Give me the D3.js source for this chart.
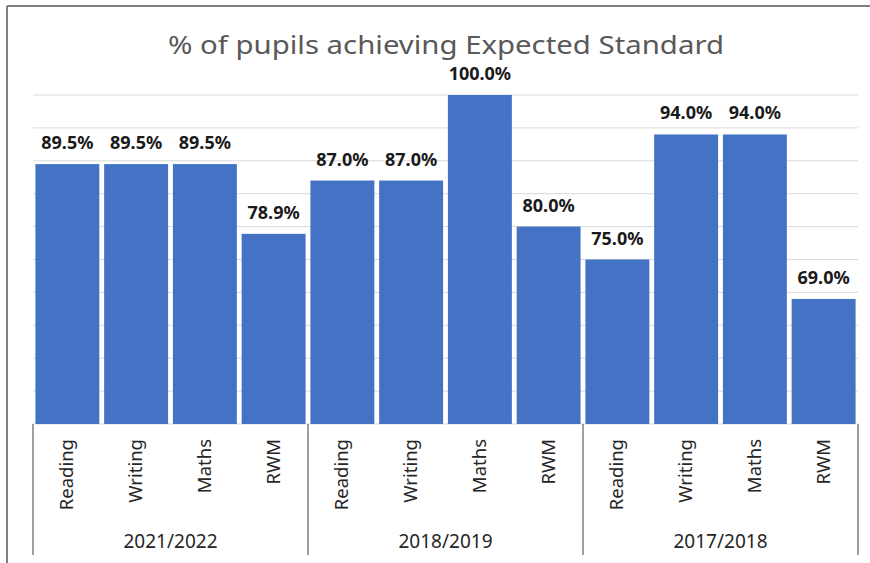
<!DOCTYPE html>
<html>
<head>
<meta charset="utf-8">
<script src="https://cdn.jsdelivr.net/npm/d3@7"></script>
<style>
  body { margin: 0; background: #fff; }
  text { font-family: "Noto Sans", "Open Sans", sans-serif; }
</style>
</head>
<body>
<svg id="chart" width="870" height="563"></svg>
<script>
// data
const years = ["2021/2022", "2018/2019", "2017/2018"];
const subjects = ["Reading", "Writing", "Maths", "RWM"];
const values2122 = [89.5, 89.5, 89.5, 78.9];
const values1819 = [87.0, 87.0, 100.0, 80.0];
const values1718 = [75.0, 94.0, 94.0, 69.0];
const yTicks = [50, 55, 60, 65, 70, 75, 80, 85, 90, 95, 100];

const allValues = [values2122, values1819, values1718];
const data = [];
years.forEach((yr, i) => {
    subjects.forEach((s, j) => {
        data.push({ year: yr, subject: s, key: yr + "|" + s, value: allValues[i][j] });
    });
});

const svg = d3.select("#chart");
const plotLeft = 33, plotRight = 858, plotTop = 95, plotBottom = 424;

const x = d3.scaleBand()
    .domain(data.map(d => d.key))
    .range([plotLeft, plotRight])
    .paddingInner(0.07)
    .paddingOuter(0.035);

const y = d3.scaleLinear()
    .domain([50, 100])
    .range([plotBottom, plotTop]);

// outer frame (only top and left visible)
svg.append("line").attr("x1", 7).attr("x2", 870).attr("y1", 6).attr("y2", 6)
    .attr("stroke", "#7f7f7f").attr("stroke-width", 2);
svg.append("line").attr("x1", 7).attr("x2", 7).attr("y1", 6).attr("y2", 563)
    .attr("stroke", "#7f7f7f").attr("stroke-width", 2);

// gridlines
svg.append("g")
    .selectAll("line")
    .data(yTicks)
    .enter()
    .append("line")
    .attr("x1", plotLeft)
    .attr("x2", plotRight)
    .attr("y1", d => y(d))
    .attr("y2", d => y(d))
    .attr("stroke", "#d9d9d9")
    .attr("stroke-width", 1);

// title
svg.append("text")
    .attr("x", 446)
    .attr("y", 54)
    .attr("text-anchor", "middle")
    .attr("fill", "#595959")
    .style("font-size", "25px")
    .attr("textLength", 556)
    .attr("lengthAdjust", "spacingAndGlyphs")
    .text("% of pupils achieving Expected Standard");

// bars
svg.append("g")
    .selectAll("rect")
    .data(data)
    .enter()
    .append("rect")
    .attr("class", "bar")
    .attr("x", d => x(d.key))
    .attr("width", x.bandwidth())
    .attr("y", d => y(d.value))
    .attr("height", d => plotBottom - y(d.value))
    .attr("fill", "#4472c4");

// data labels
svg.append("g")
    .selectAll("text")
    .data(data)
    .enter()
    .append("text")
    .attr("x", d => x(d.key) + x.bandwidth() / 2)
    .attr("y", d => y(d.value) - 15)
    .attr("text-anchor", "middle")
    .attr("fill", "#1a1a1a")
    .style("font-size", "18px")
    .style("font-weight", "bold")
    .text(d => d.value.toFixed(1) + "%");

// category axis: rotated subject labels
svg.append("g")
    .selectAll("text")
    .data(data)
    .enter()
    .append("text")
    .attr("transform", d => "translate(" + (x(d.key) + x.bandwidth() / 2 + 6) + ",439) rotate(-90)")
    .attr("text-anchor", "end")
    .attr("fill", "#262626")
    .style("font-size", "18.5px")
    .text(d => d.subject);

// group separators
const step = x.step();
const seps = [0, 4, 8, 12];
svg.append("g")
    .selectAll("line")
    .data(seps)
    .enter()
    .append("line")
    .attr("x1", d => plotLeft + d * step)
    .attr("x2", d => plotLeft + d * step)
    .attr("y1", plotBottom)
    .attr("y2", 555)
    .attr("stroke", "#7f7f7f")
    .attr("stroke-width", 1.5);

// year labels
svg.append("g")
    .selectAll("text")
    .data(years)
    .enter()
    .append("text")
    .attr("x", (d, i) => plotLeft + (i * 4 + 2) * step)
    .attr("y", 548)
    .attr("text-anchor", "middle")
    .attr("fill", "#262626")
    .style("font-size", "19px")
    .text(d => d);
</script>
</body>
</html>
